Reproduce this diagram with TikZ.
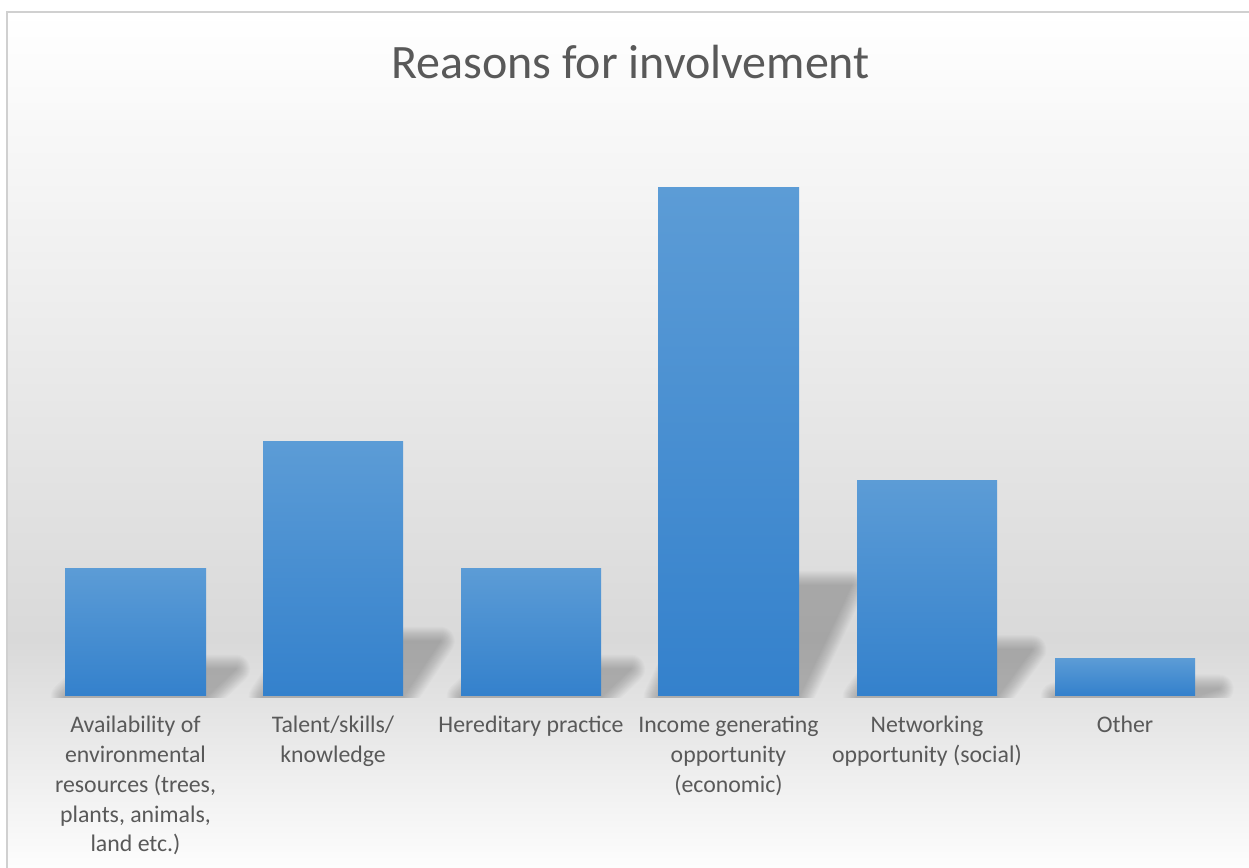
\documentclass[tikz,border=0pt]{standalone}
\usepackage{fontspec}
\setmainfont{Carlito}
\definecolor{bggray}{HTML}{D9D9D9}
\definecolor{bartop}{HTML}{5C9CD6}
\definecolor{barbot}{HTML}{3481CC}
\definecolor{txt}{HTML}{595959}
\definecolor{frame}{HTML}{D0D0D0}
\tikzset{
  barbox/.style={top color=bartop, bottom color=barbot, draw=none},
  lbl/.style={anchor=north, align=center, text=txt, inner sep=0pt,
    font=\fontsize{23.8}{29.8}\selectfont},
  ttl/.style={anchor=base, text=txt, inner sep=0pt,
    font=\fontsize{48}{56}\selectfont},
}
\newcommand{\barshadow}[3]{% x0, x1, h
  \pgfmathsetmacro{\sh}{22+0.06*#3}
  \pgfmathsetmacro{\ty}{697-0.22*#3}
  \foreach \w in {1,3,...,29}{
    \begin{scope}[transparency group, opacity=0.015]
    \filldraw[black, line width=\w pt, line join=round]
      (#1,697) -- (#2,697) -- (#2+\sh,\ty) -- (#1+\sh,\ty) -- cycle;
    \end{scope}
  }
}
\begin{document}
\begin{tikzpicture}[x=1pt,y=-1pt]
\useasboundingbox (0,0) rectangle (1249,867);
\fill[white] (0,0) rectangle (1249,867);
\begin{scope}
\clip (0,0) rectangle (1249,867);
\shade[top color=white, bottom color=bggray] (7,12) rectangle (1262,640);
\shade[top color=bggray, bottom color=white] (7,640) rectangle (1262,880);
\draw[frame, line width=1.5pt] (7,880) -- (7,12) -- (1262,12);
\end{scope}
\begin{scope}
\clip (0,0) rectangle (1249,697);
% shadows
\barshadow{65}{206}{127}
\barshadow{263}{403}{254}
\barshadow{461}{601}{127}
\barshadow{658}{799}{508}
\barshadow{857}{997}{215}
\barshadow{1055}{1195}{37}
\end{scope}
% bars
\path[barbox] (65,568) rectangle (206,695);
\path[barbox] (263,441) rectangle (403,695);
\path[barbox] (461,568) rectangle (601,695);
\path[barbox] (658,187) rectangle (799,695);
\path[barbox] (857,480) rectangle (997,695);
\path[barbox] (1055,658) rectangle (1195,695);
% title
\node[ttl] (title) at (630.5,78) {Reasons for involvement};
% labels
\node[lbl] (l1) at (135.5,716) {Availability of\\environmental\\resources (trees,\\plants, animals,\\land etc.)};
\node[lbl] (l2) at (333,716) {Talent/skills/\\knowledge};
\node[lbl] (l3) at (531,716) {Hereditary practice};
\node[lbl] (l4) at (728.5,716) {Income generating\\opportunity\\(economic)};
\node[lbl] (l5) at (927,716) {Networking\\opportunity (social)};
\node[lbl] (l6) at (1125,716) {Other};
\end{tikzpicture}
\end{document}
